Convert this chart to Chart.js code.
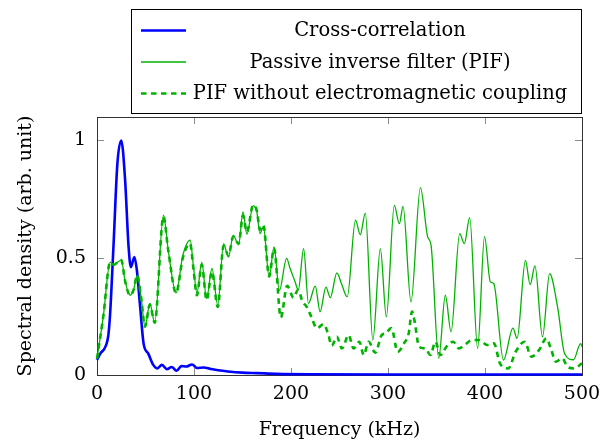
<!DOCTYPE html>
<html>
<head>
<meta charset="utf-8">
<script src="https://cdn.jsdelivr.net/npm/chart.js@4.4.0/dist/chart.umd.min.js"></script>
<style>
  html, body { margin: 0; background: #fff; }
  canvas { display: block; }
</style>
</head>
<body>
<canvas id="spectrumChart" width="616" height="441"></canvas>
<script>
// --- data ---
const xTicks = [0, 100, 200, 300, 400, 500];
const yTicks = [0, 0.5, 1];
const seriesNames = ['Cross-correlation', 'Passive inverse filter (PIF)', 'PIF without electromagnetic coupling'];

const ccFreq = [0, 4, 8, 11.7, 13.5, 17, 21, 25, 29, 32.5, 35, 38.5, 41, 44.5, 48, 53, 58, 62, 67, 72, 77, 82, 87, 92, 98, 103, 110, 117, 125, 135, 150, 165, 185, 220, 300, 400, 500];
const ccVal = [0.065, 0.095, 0.115, 0.17, 0.26, 0.55, 0.90, 1.0, 0.83, 0.55, 0.46, 0.503, 0.45, 0.29, 0.135, 0.09, 0.043, 0.028, 0.043, 0.025, 0.034, 0.018, 0.038, 0.036, 0.045, 0.03, 0.032, 0.026, 0.02, 0.015, 0.01, 0.008, 0.005, 0.003, 0.002, 0.002, 0.002];

const pifFreq = [0, 6.5, 13.5, 17.5, 21, 25, 29, 34, 37.5, 41.5, 45.5, 49.5, 54.5, 59.5, 68.5, 73.5, 81.5, 88.5, 96, 99.5,
  103, 108, 113, 118.5, 124.5, 130.5, 135.5, 140.5, 146, 150.5, 154.5, 161, 164.8, 168, 171.5, 177.5, 182.5, 188, 195.5, 199,
  204, 207.5, 213, 218, 225, 230, 236, 240.5, 247.3, 252, 258, 266.5, 271.4, 276.6, 284.4, 292.1, 298.3, 306.5, 311.7, 315.5,
  323.7, 333.4, 340.9, 344.4, 352.3, 359.1, 365, 373.9, 378.7, 384.2, 392.4, 399.5, 405.5, 409, 419, 428.8, 433.1, 441.7, 446.5, 451.5,
  459.3, 466.6, 475, 482, 491.3, 498.5, 500];
const pifVal = [0.07, 0.25, 0.48, 0.47, 0.48, 0.49, 0.40, 0.34, 0.36, 0.425, 0.33, 0.206, 0.305, 0.223, 0.681, 0.53, 0.35, 0.51, 0.575, 0.46,
  0.35, 0.48, 0.326, 0.454, 0.298, 0.56, 0.503, 0.595, 0.555, 0.695, 0.60, 0.722, 0.695, 0.603, 0.631, 0.418, 0.546, 0.36, 0.497, 0.455,
  0.40, 0.362, 0.539, 0.305, 0.379, 0.27, 0.375, 0.33, 0.435, 0.39, 0.333, 0.66, 0.598, 0.69, 0.149, 0.539, 0.248, 0.723, 0.645, 0.719,
  0.312, 0.799, 0.589, 0.553, 0.071, 0.34, 0.184, 0.603, 0.56, 0.671, 0.113, 0.59, 0.397, 0.39, 0.064, 0.2, 0.156, 0.489, 0.385, 0.465,
  0.163, 0.432, 0.285, 0.092, 0.065, 0.134, 0.121];

const noEmFreq = [0, 6.5, 13.5, 17.5, 21, 25, 29, 34, 37.5, 41.5, 45.5, 49.5, 54.5, 59.5, 68.5, 73.5, 81.5, 88.5, 96, 99.5,
  103, 108, 113, 118.5, 124.5, 130.5, 135.5, 140.5, 146, 150.5, 154.5, 161, 164.8, 168, 171.5, 177.5, 182.5, 189.5, 196, 202.6,
  207.3, 212, 216.3, 221, 226.7, 233.6, 238.3, 242, 247.3, 252.5, 259.4, 264.5, 270.4, 275, 280, 286.9, 293.5, 297.5, 303.5, 310,
  316.5, 321.3, 324.8, 327.2, 332, 338.6, 343.7, 348.9, 354.1, 360.3, 367.2, 373.1, 378.9, 386.8, 393.7, 402.3, 409.2, 415.4, 424, 431.6,
  440.9, 447.8, 455.7, 463.3, 468.4, 472.9, 479.8, 485, 491.9, 500];
const noEmVal = [0.07, 0.25, 0.48, 0.47, 0.48, 0.49, 0.40, 0.34, 0.36, 0.425, 0.33, 0.206, 0.30, 0.223, 0.675, 0.53, 0.35, 0.50, 0.56, 0.45,
  0.34, 0.47, 0.32, 0.44, 0.29, 0.55, 0.51, 0.59, 0.56, 0.68, 0.61, 0.725, 0.70, 0.62, 0.64, 0.42, 0.54, 0.245, 0.38, 0.33,
  0.363, 0.312, 0.29, 0.248, 0.199, 0.217, 0.175, 0.125, 0.163, 0.113, 0.17, 0.113, 0.142, 0.085, 0.142, 0.095, 0.17, 0.177, 0.2, 0.099,
  0.135, 0.177, 0.27, 0.234, 0.121, 0.113, 0.085, 0.142, 0.085, 0.121, 0.142, 0.113, 0.128, 0.149, 0.149, 0.128, 0.135, 0.05, 0.028, 0.099,
  0.142, 0.078, 0.106, 0.156, 0.106, 0.057, 0.071, 0.035, 0.028, 0.05];

const FONT = "'DejaVu Serif', serif";
const GREEN = 'rgb(0, 179, 0)';

function toPoints(xs, ys) {
    return xs.map((x, i) => ({ x: x, y: ys[i] }));
}

Chart.defaults.font.family = FONT;
Chart.defaults.font.size = 19;
Chart.defaults.color = '#000';

// khung trục + vạch chia hướng vào trong
const axisFrame = {
    id: 'axisFrame',
    beforeDatasetsDraw(chart) {
        const { ctx, chartArea: a, scales } = chart;
        ctx.save();
        ctx.strokeStyle = '#8c8c8c';
        ctx.lineWidth = 1;
        ctx.beginPath();
        xTicks.forEach(v => {
            const px = Math.round(scales.x.getPixelForValue(v)) + 0.5;
            ctx.moveTo(px, a.bottom); ctx.lineTo(px, a.bottom - 7);
            ctx.moveTo(px, a.top); ctx.lineTo(px, a.top + 7);
        });
        yTicks.forEach(v => {
            const py = Math.round(scales.y.getPixelForValue(v)) + 0.5;
            ctx.moveTo(a.left, py); ctx.lineTo(a.left + 7, py);
            ctx.moveTo(a.right, py); ctx.lineTo(a.right - 7, py);
        });
        ctx.stroke();
        ctx.strokeStyle = '#333';
        ctx.strokeRect(Math.round(a.left) + 0.5, Math.round(a.top) + 0.5, Math.round(a.right - a.left), Math.round(a.bottom - a.top));
        ctx.restore();
    }
};

// chú thích dạng hộp, chữ căn giữa
const boxLegend = {
    id: 'boxLegend',
    afterDraw(chart) {
        const ctx = chart.ctx;
        ctx.save();
        ctx.fillStyle = '#fff';
        ctx.fillRect(131, 9, 451, 104);
        ctx.strokeStyle = '#000';
        ctx.lineWidth = 1;
        ctx.strokeRect(131.5, 9.5, 450, 104);
        ctx.font = '19.5px ' + FONT;
        ctx.textAlign = 'center';
        ctx.textBaseline = 'middle';
        chart.data.datasets.forEach((ds, i) => {
            const yy = 30.5 + i * 31.5;
            ctx.strokeStyle = ds.borderColor;
            ctx.lineWidth = ds.borderWidth;
            ctx.setLineDash(ds.borderDash || []);
            ctx.beginPath();
            ctx.moveTo(141, yy);
            ctx.lineTo(186, yy);
            ctx.stroke();
            ctx.setLineDash([]);
            ctx.fillStyle = '#000';
            ctx.fillText(ds.label, 380, yy + 0.5);
        });
        ctx.restore();
    }
};

const ctx = document.getElementById('spectrumChart').getContext('2d');
new Chart(ctx, {
    type: 'line',
    data: {
        datasets: [{
            label: seriesNames[0],
            data: toPoints(ccFreq, ccVal),
            borderColor: '#0000ff',
            borderWidth: 2.6,
            order: 3
        }, {
            label: seriesNames[1],
            data: toPoints(pifFreq, pifVal),
            borderColor: GREEN,
            borderWidth: 1.3,
            order: 2
        }, {
            label: seriesNames[2],
            data: toPoints(noEmFreq, noEmVal),
            borderColor: GREEN,
            borderWidth: 2.6,
            borderDash: [5.5, 4.5],
            order: 1
        }]
    },
    options: {
        responsive: false,
        animation: false,
        events: [],
        clip: false,
        elements: {
            point: { radius: 0 },
            line: { cubicInterpolationMode: 'monotone', fill: false }
        },
        layout: { padding: { left: 0, right: 34, top: 117, bottom: 0 } },
        scales: {
            x: {
                type: 'linear',
                min: 0,
                max: 500,
                afterBuildTicks: s => { s.ticks = xTicks.map(v => ({ value: v })); },
                afterFit: s => { s.height = 66; },
                grid: { display: false, drawTicks: false },
                border: { display: false },
                ticks: { padding: 8, maxRotation: 0 },
                title: { display: true, text: 'Frequency (kHz)', padding: { top: 0, bottom: 0 } }
            },
            y: {
                min: 0,
                max: 1.1,
                afterBuildTicks: s => { s.ticks = yTicks.map(v => ({ value: v })); },
                afterFit: s => { s.width = 97; },
                grid: { display: false, drawTicks: false },
                border: { display: false },
                ticks: { padding: 11, callback: v => String(v) },
                title: { display: true, text: 'Spectral density (arb. unit)', padding: { top: 15, bottom: 0 } }
            }
        },
        plugins: {
            legend: { display: false },
            tooltip: { enabled: false }
        }
    },
    plugins: [axisFrame, boxLegend]
});
</script>
</body>
</html>
